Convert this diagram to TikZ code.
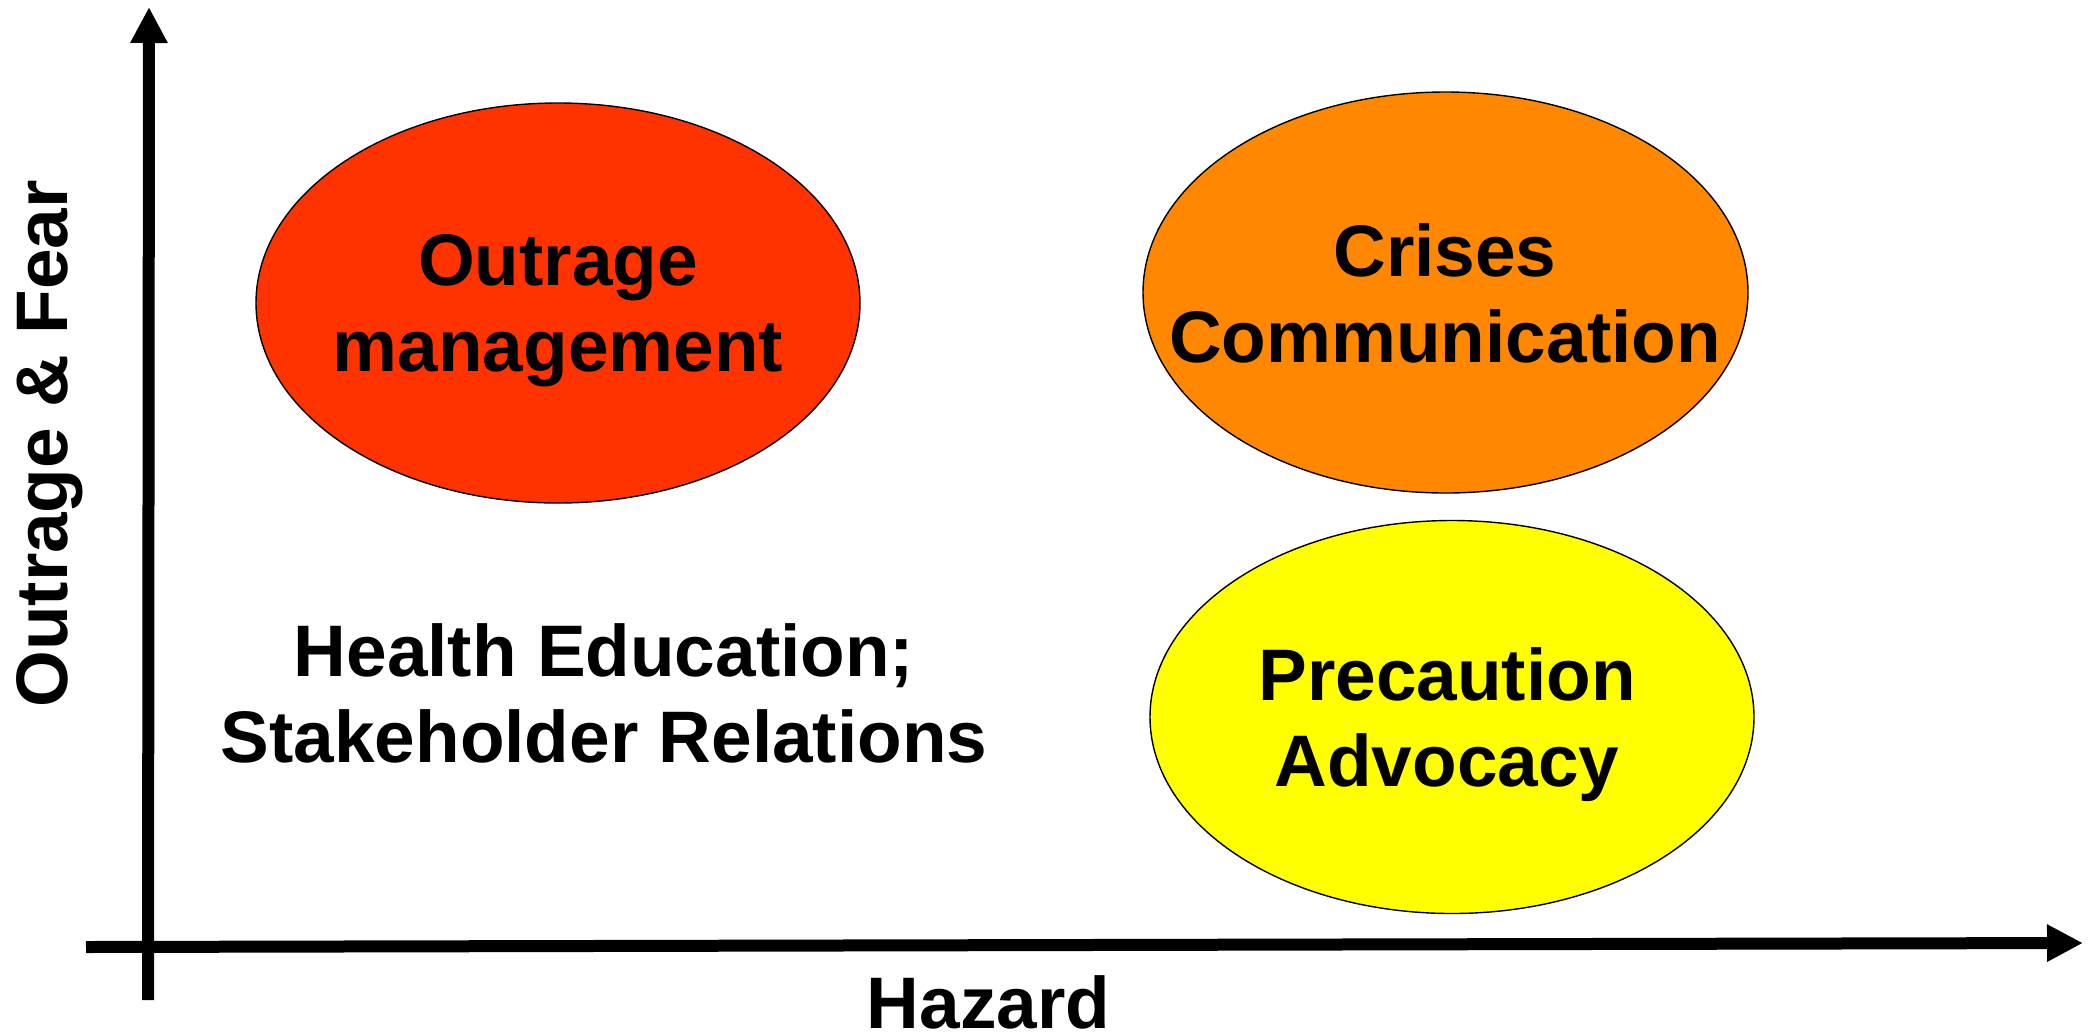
\documentclass[tikz,border=0pt]{standalone}
\usepackage{fontspec}
\setmainfont{Liberation Sans}
\usetikzlibrary{arrows.meta,shapes.geometric}
\definecolor{redfill}{HTML}{FF3300}
\definecolor{orangefill}{HTML}{FF8800}
\definecolor{yellowfill}{HTML}{FFFF00}
\tikzset{
  axis/.style={line width=6pt, -{Triangle[length=18pt,width=17.5pt]}},
  blob/.style={ellipse, draw=black, line width=0.7pt, inner sep=0pt},
  txt/.style={align=center, inner sep=3pt,
    font=\bfseries\fontsize{36.5pt}{43pt}\selectfont},
}
\begin{document}
\begin{tikzpicture}[x=0.5pt,y=-0.5pt]
  \useasboundingbox (0,0) rectangle (2094,1035);

  % quadrant ellipses
  \node[blob, fill=redfill, minimum width=302pt, minimum height=200pt] (om) at (558,303) {};
  \node[blob, fill=orangefill, minimum width=302.5pt, minimum height=200.5pt] (cc) at (1445.5,292.5) {};
  \node[blob, fill=yellowfill, minimum width=302pt, minimum height=196.5pt] (pa) at (1452,717) {};

  % labels
  \node[txt] (omt) at (558,311) {Outrage\\management};
  \node[txt] (cct) at (1445,293.5) {Crises\\Communication};
  \node[txt] (pat) at (1447,725) {Precaution\\Advocacy};
  \node[txt] (he) at (604,693) {Health Education;\\Stakeholder Relations};

  % axes
  \coordinate (yb) at (148,1000);
  \coordinate (yt) at (149,7);
  \coordinate (xl) at (86,947);
  \coordinate (xr) at (2083,943);
  \draw[axis] (yb) -- (yt);
  \draw[axis] (xl) -- (xr);

  \node[txt, anchor=base] (hz) at (988.5,1028) {Hazard};
  \node[txt, anchor=base, rotate=90] (of) at (68,444) {Outrage \& Fear};
\end{tikzpicture}
\end{document}
